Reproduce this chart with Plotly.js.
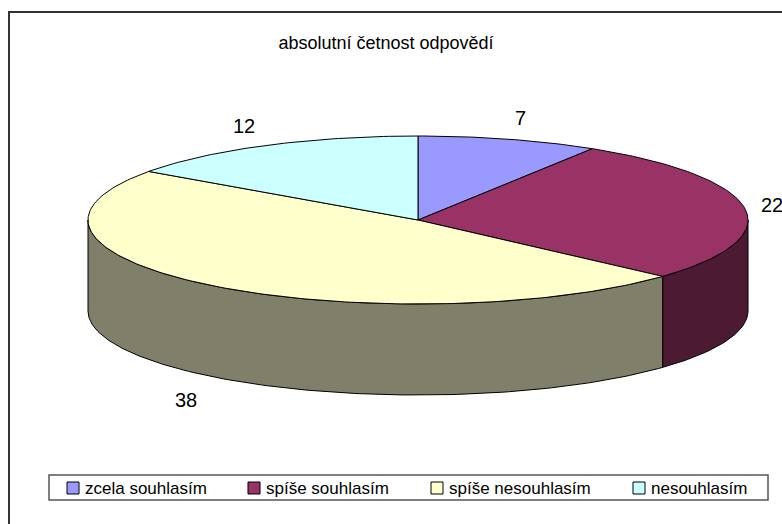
<!DOCTYPE html>
<html>
<head>
<meta charset="utf-8">
<script src="https://cdn.plot.ly/plotly-3.0.1.min.js"></script>
<style>
  html, body { margin: 0; padding: 0; background: #ffffff; }
  #chart { width: 782px; height: 524px; }
</style>
</head>
<body>
<div id="chart"></div>
<script>
// ---- data ----
const chartTitle = 'absolutní četnost odpovědí';
const categories = ['zcela souhlasím', 'spíše souhlasím', 'spíše nesouhlasím', 'nesouhlasím'];
const values = [7, 22, 38, 12];

// ---- styles ----
const topColors = ['#9999FF', '#993366', '#FFFFCC', '#CCFFFF'];
const sideColors = ['#4D4D80', '#4D1A33', '#80806A', '#668080'];
const FONT = 'Arial, "Liberation Sans", sans-serif';

// ---- geometry of the 3D pie (layout, not data) ----
const W = 782, H = 524;
const cx = 418, cy = 220, rx = 330, ry = 84, depth = 91;
const legendItemX = [67, 248, 431, 633];
const legendBox = { x0: 49, y0: 475, x1: 768, y1: 500 };

const rad = d => d * Math.PI / 180;
function pt(a, dy) {
  return [cx + rx * Math.sin(rad(a)), cy - ry * Math.cos(rad(a)) + dy];
}
function arc(a1, a2, dy, xs, ys) {
  const n = Math.max(2, Math.ceil(Math.abs(a2 - a1)));
  for (let k = 0; k <= n; k++) {
    const p = pt(a1 + (a2 - a1) * k / n, dy);
    xs.push(p[0]); ys.push(p[1]);
  }
}

const total = values.reduce((s, v) => s + v, 0);
const starts = [], ends = [];
let acc = 0;
values.forEach(v => {
  starts.push(acc * 360 / total);
  acc += v;
  ends.push(acc * 360 / total);
});

const traces = [];
// side walls (front half only: 90..270 deg)
values.forEach((v, i) => {
  const lo = Math.max(starts[i], 90), hi = Math.min(ends[i], 270);
  if (lo >= hi) return;
  const xs = [], ys = [];
  arc(lo, hi, 0, xs, ys);
  arc(hi, lo, depth, xs, ys);
  xs.push(xs[0]); ys.push(ys[0]);
  traces.push({
    type: 'scatter', mode: 'lines', x: xs, y: ys, fill: 'toself',
    fillcolor: sideColors[i], line: { color: '#000000', width: 1 },
    hoverinfo: 'skip', showlegend: false
  });
});
// top faces
values.forEach((v, i) => {
  const xs = [cx], ys = [cy];
  arc(starts[i], ends[i], 0, xs, ys);
  xs.push(cx); ys.push(cy);
  traces.push({
    type: 'scatter', mode: 'lines', x: xs, y: ys, fill: 'toself',
    fillcolor: topColors[i], line: { color: '#000000', width: 1 },
    name: categories[i], text: categories[i] + ': ' + v,
    hoverinfo: 'text', showlegend: false
  });
});

// value labels
const annotations = values.map((v, i) => {
  const m = (starts[i] + ends[i]) / 2;
  const s = Math.sin(rad(m)), c = Math.cos(rad(m));
  const right = s >= 0;
  return {
    x: cx + (rx + (right ? 14 : 20)) * s,
    y: cy - (ry + 22) * c + (c < 0 ? depth + 6 : 0),
    xref: 'x', yref: 'y', text: String(v), showarrow: false,
    xanchor: right ? 'left' : 'right', yanchor: 'middle',
    font: { family: FONT, size: 20, color: '#000000' }
  };
});

// chart border + legend (manual, Excel style)
const shapes = [
  { type: 'rect', xref: 'x', yref: 'y', x0: 9, y0: 12, x1: 800, y1: 540,
    line: { color: '#333333', width: 2 }, fillcolor: 'rgba(0,0,0,0)', layer: 'below' },
  { type: 'rect', xref: 'x', yref: 'y', x0: legendBox.x0, y0: legendBox.y0, x1: legendBox.x1, y1: legendBox.y1,
    line: { color: '#555555', width: 1.5 }, fillcolor: '#ffffff' }
];
categories.forEach((c, i) => {
  const x = legendItemX[i];
  shapes.push({ type: 'rect', xref: 'x', yref: 'y', x0: x, y0: 482, x1: x + 12, y1: 494,
    line: { color: '#000000', width: 1 }, fillcolor: topColors[i] });
  annotations.push({ x: x + 16, y: 488, xref: 'x', yref: 'y', text: c, showarrow: false,
    xanchor: 'left', yanchor: 'middle', font: { family: FONT, size: 17, color: '#000000' } });
});

const layout = {
  width: W, height: H,
  margin: { l: 0, r: 0, t: 0, b: 0, pad: 0 },
  paper_bgcolor: '#ffffff', plot_bgcolor: '#ffffff',
  title: { text: chartTitle, x: 386 / W, xanchor: 'center', y: 1 - 43 / H, yanchor: 'middle',
           font: { family: FONT, size: 18, color: '#000000' } },
  xaxis: { range: [0, W], visible: false, fixedrange: true },
  yaxis: { range: [H, 0], visible: false, fixedrange: true },
  showlegend: false,
  shapes: shapes,
  annotations: annotations
};

Plotly.newPlot('chart', traces, layout, { staticPlot: true, displayModeBar: false });
</script>
</body>
</html>
